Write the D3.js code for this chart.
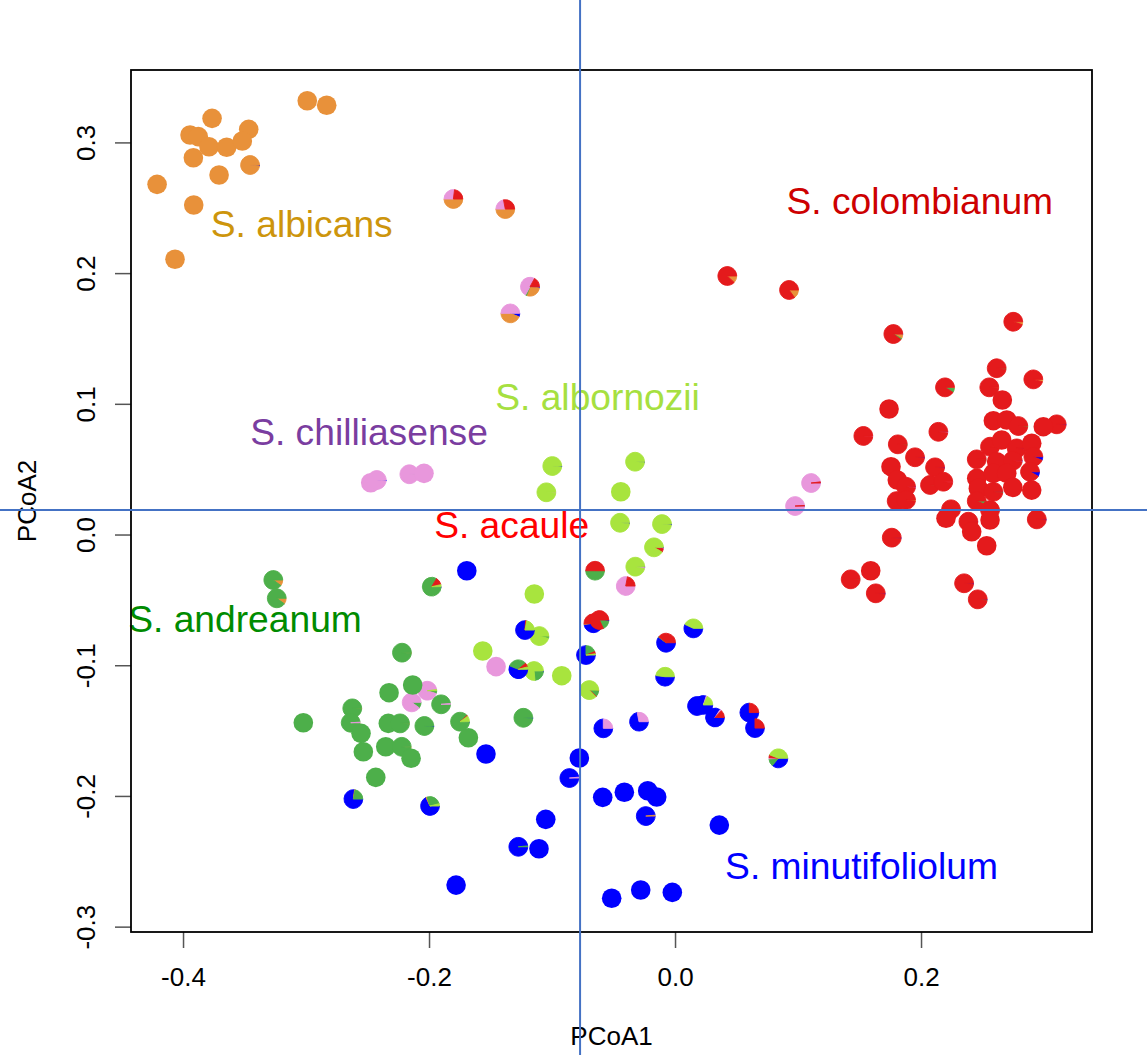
<!DOCTYPE html>
<html>
<head>
<meta charset="utf-8">
<script src="https://cdn.jsdelivr.net/npm/d3@7"></script>
<style>
  html, body { margin: 0; padding: 0; background: #ffffff; }
  svg { display: block; }
  text { font-family: "Liberation Sans", Arial, Helvetica, sans-serif; }
</style>
</head>
<body>
<svg id="chart" width="1147" height="1055"></svg>
<script>
// Ancestry components (pie slice order, clockwise from 3 o'clock)
const ancestry = ["minutifoliolum", "albicans", "andreanum", "chilliasense", "colombianum", "albornozii"];

// Each sample: PCoA1, PCoA2, ancestry proportions in the order above
const samples = [
  // S. albicans
  [-0.2990, 0.3319, [0, 1, 0, 0, 0, 0]],
  [-0.2832, 0.3284, [0, 1, 0, 0, 0, 0]],
  [-0.3764, 0.3184, [0, 1, 0, 0, 0, 0]],
  [-0.3466, 0.3100, [0, 1, 0, 0, 0, 0]],
  [-0.3943, 0.3057, [0, 1, 0, 0, 0, 0]],
  [-0.3876, 0.3044, [0, 1, 0, 0, 0, 0]],
  [-0.3789, 0.2967, [0, 1, 0, 0, 0, 0]],
  [-0.3645, 0.2963, [0, 1, 0, 0, 0, 0]],
  [-0.3518, 0.3011, [0, 1, 0, 0, 0, 0]],
  [-0.3916, 0.2883, [0, 1, 0, 0, 0, 0]],
  [-0.3455, 0.2827, [0.015, 0.985, 0, 0, 0, 0]],
  [-0.3707, 0.2751, [0, 1, 0, 0, 0, 0]],
  [-0.4211, 0.2679, [0, 1, 0, 0, 0, 0]],
  [-0.3913, 0.2521, [0, 1, 0, 0, 0, 0]],
  [-0.4065, 0.2106, [0, 1, 0, 0, 0, 0]],
  // admixed upper samples
  [-0.1802, 0.2567, [0, 0.5, 0, 0.27, 0.23, 0]],
  [-0.1380, 0.2490, [0, 0.5, 0, 0.22, 0.28, 0]],
  [-0.1179, 0.1896, [0.02, 0.29, 0.02, 0.5, 0.17, 0]],
  [-0.1339, 0.1692, [0.06, 0.44, 0, 0.5, 0, 0]],
  [0.0425, 0.1978, [0, 0.12, 0, 0, 0.88, 0]],
  [0.0927, 0.1871, [0, 0.15, 0, 0, 0.85, 0]],
  // S. colombianum
  [0.2750, 0.1628, [0, 0.05, 0, 0, 0.95, 0]],
  [0.1775, 0.1534, [0.01, 0.07, 0.02, 0, 0.90, 0]],
  [0.2615, 0.1272, [0, 0.01, 0.01, 0, 0.98, 0]],
  [0.2913, 0.1187, [0, 0.04, 0, 0, 0.96, 0]],
  [0.2195, 0.1126, [0, 0.02, 0.07, 0, 0.91, 0]],
  [0.2555, 0.1126, [0, 0.015, 0, 0, 0.985, 0]],
  [0.2661, 0.1029, [0, 0, 0, 0, 1, 0]],
  [0.1740, 0.0960, [0, 0, 0, 0, 1, 0]],
  [0.3103, 0.0843, [0.015, 0, 0, 0, 0.985, 0]],
  [0.2994, 0.0825, [0, 0, 0, 0, 1, 0]],
  [0.2588, 0.0871, [0, 0, 0, 0, 1, 0]],
  [0.2697, 0.0876, [0, 0, 0, 0, 1, 0]],
  [0.2791, 0.0830, [0, 0.01, 0.01, 0, 0.98, 0]],
  [0.1531, 0.0754, [0, 0, 0, 0.015, 0.985, 0]],
  [0.2141, 0.0786, [0.01, 0, 0, 0.01, 0.98, 0]],
  [0.1811, 0.0690, [0, 0, 0.015, 0, 0.985, 0]],
  [0.2561, 0.0672, [0, 0.01, 0, 0, 0.99, 0]],
  [0.2656, 0.0723, [0, 0, 0, 0, 1, 0]],
  [0.2778, 0.0659, [0.015, 0, 0, 0, 0.985, 0]],
  [0.2900, 0.0698, [0, 0, 0, 0, 1, 0]],
  [0.1951, 0.0591, [0.015, 0, 0, 0, 0.985, 0]],
  [0.2453, 0.0575, [0, 0, 0.01, 0, 0.99, 0]],
  [0.2615, 0.0557, [0, 0, 0, 0, 1, 0]],
  [0.2746, 0.0565, [0.015, 0, 0, 0.005, 0.98, 0]],
  [0.2913, 0.0595, [0.06, 0, 0, 0, 0.94, 0]],
  [0.1756, 0.0519, [0, 0, 0, 0, 1, 0]],
  [0.2114, 0.0514, [0.015, 0, 0, 0, 0.985, 0]],
  [0.2886, 0.0480, [0.08, 0, 0, 0, 0.92, 0]],
  [0.1807, 0.0417, [0, 0, 0, 0, 1, 0]],
  [0.2453, 0.0430, [0, 0, 0, 0, 1, 0]],
  [0.2588, 0.0468, [0, 0, 0, 0, 1, 0]],
  [0.2697, 0.0468, [0, 0, 0, 0, 1, 0]],
  [0.1878, 0.0366, [0.015, 0, 0, 0.005, 0.98, 0]],
  [0.2073, 0.0379, [0, 0, 0.015, 0, 0.985, 0]],
  [0.2181, 0.0404, [0, 0, 0, 0.015, 0.985, 0]],
  [0.2466, 0.0353, [0, 0, 0, 0, 1, 0]],
  [0.2588, 0.0327, [0.01, 0, 0.01, 0, 0.98, 0]],
  [0.2746, 0.0361, [0, 0, 0, 0, 1, 0]],
  [0.2900, 0.0340, [0, 0, 0, 0, 1, 0]],
  [0.1802, 0.0256, [0, 0.01, 0.06, 0, 0.93, 0]],
  [0.1878, 0.0264, [0, 0.02, 0, 0, 0.98, 0]],
  [0.2453, 0.0256, [0, 0, 0.06, 0, 0.94, 0]],
  [0.2561, 0.0187, [0.01, 0, 0, 0.005, 0.985, 0]],
  [0.2244, 0.0193, [0.01, 0, 0, 0.005, 0.985, 0]],
  [0.2203, 0.0124, [0, 0, 0, 0, 1, 0]],
  [0.2385, 0.0098, [0.005, 0, 0, 0, 0.995, 0]],
  [0.2561, 0.0111, [0, 0, 0, 0, 1, 0]],
  [0.2412, 0.0021, [0, 0, 0, 0, 1, 0]],
  [0.2941, 0.0116, [0.015, 0, 0, 0, 0.985, 0]],
  [0.1762, -0.0024, [0.015, 0, 0, 0, 0.985, 0]],
  [0.2534, -0.0086, [0, 0, 0, 0, 1, 0]],
  [0.1591, -0.0277, [0, 0, 0, 0, 1, 0]],
  [0.1428, -0.0343, [0, 0, 0.015, 0, 0.985, 0]],
  [0.1632, -0.0450, [0.015, 0, 0, 0, 0.985, 0]],
  [0.2350, -0.0373, [0.015, 0, 0, 0, 0.985, 0]],
  [0.2461, -0.0496, [0.015, 0, 0.01, 0, 0.975, 0]],
  // S. chilliasense
  [0.1106, 0.0394, [0.005, 0, 0, 0.975, 0.02, 0]],
  [0.0976, 0.0218, [0.01, 0, 0, 0.98, 0.01, 0]],
  [-0.2474, 0.0396, [0, 0, 0, 1, 0, 0]],
  [-0.2425, 0.0417, [0.015, 0, 0, 0.985, 0, 0]],
  [-0.2160, 0.0461, [0, 0, 0.015, 0.985, 0, 0]],
  [-0.2041, 0.0468, [0, 0, 0, 1, 0, 0]],
  [-0.0401, -0.0394, [0, 0, 0, 0.78, 0.22, 0]],
  [-0.1455, -0.1011, [0, 0, 0, 1, 0, 0]],
  [-0.2014, -0.1195, [0, 0, 0.05, 0.93, 0, 0.02]],
  [-0.2141, -0.1284, [0, 0, 0.10, 0.90, 0, 0]],
  // S. albornozii
  [-0.0998, 0.0524, [0.015, 0, 0, 0, 0, 0.985]],
  [-0.1046, 0.0323, [0, 0, 0, 0.015, 0, 0.985]],
  [-0.0325, 0.0557, [0.015, 0, 0, 0, 0, 0.985]],
  [-0.0441, 0.0327, [0, 0, 0, 0, 0, 1]],
  [-0.0447, 0.0090, [0.015, 0, 0, 0, 0, 0.985]],
  [-0.0106, 0.0080, [0.015, 0, 0, 0, 0, 0.985]],
  [-0.0171, -0.0098, [0.015, 0, 0, 0.01, 0.06, 0.915]],
  [-0.0323, -0.0246, [0.015, 0, 0, 0.02, 0, 0.965]],
  [-0.1144, -0.0455, [0, 0, 0, 0, 0, 1]],
  [-0.1103, -0.0777, [0, 0.01, 0.03, 0, 0, 0.96]],
  [-0.1563, -0.0891, [0, 0, 0, 0, 0, 1]],
  [-0.1146, -0.1044, [0.015, 0, 0.22, 0, 0, 0.765]],
  [-0.0921, -0.1080, [0, 0, 0, 0, 0, 1]],
  [-0.0697, -0.1190, [0, 0.015, 0.10, 0, 0.01, 0.875]],
  // S. acaule
  [-0.0650, -0.0277, [0, 0.01, 0.49, 0, 0.50, 0]],
  [-0.0664, -0.0679, [0.48, 0.01, 0, 0, 0.51, 0]],
  [-0.0615, -0.0654, [0.02, 0, 0.16, 0, 0.82, 0]],
  // S. andreanum
  [-0.3266, -0.0348, [0, 0.10, 0.90, 0, 0, 0]],
  [-0.3238, -0.0488, [0, 0.10, 0.90, 0, 0, 0]],
  [-0.1978, -0.0399, [0.015, 0, 0.82, 0, 0.13, 0.035]],
  [-0.2220, -0.0904, [0, 0.015, 0.985, 0, 0, 0]],
  [-0.2325, -0.1210, [0, 0, 1, 0, 0, 0]],
  [-0.2133, -0.1151, [0, 0, 1, 0, 0, 0]],
  [-0.1902, -0.1299, [0, 0, 0.985, 0.015, 0, 0]],
  [-0.3022, -0.1440, [0, 0, 1, 0, 0, 0]],
  [-0.2624, -0.1330, [0, 0.015, 0.985, 0, 0, 0]],
  [-0.2637, -0.1440, [0, 0.01, 0.98, 0.01, 0, 0]],
  [-0.2331, -0.1445, [0, 0, 1, 0, 0, 0]],
  [-0.2236, -0.1445, [0, 0.015, 0.985, 0, 0, 0]],
  [-0.2038, -0.1465, [0.015, 0, 0.985, 0, 0, 0]],
  [-0.1748, -0.1432, [0.015, 0, 0.87, 0, 0.015, 0.10]],
  [-0.1680, -0.1555, [0, 0, 1, 0, 0, 0]],
  [-0.2553, -0.1521, [0, 0, 1, 0, 0, 0]],
  [-0.2534, -0.1662, [0, 0, 1, 0, 0, 0]],
  [-0.2352, -0.1624, [0, 0, 1, 0, 0, 0]],
  [-0.2222, -0.1624, [0, 0.015, 0.985, 0, 0, 0]],
  [-0.2146, -0.1712, [0, 0, 1, 0, 0, 0]],
  [-0.2433, -0.1858, [0, 0, 1, 0, 0, 0]],
  [-0.1233, -0.1402, [0.015, 0, 0.985, 0, 0, 0]],
  // S. minutifoliolum
  [-0.1693, -0.0277, [1, 0, 0, 0, 0, 0]],
  [-0.1220, -0.0731, [0.76, 0, 0, 0, 0.02, 0.22]],
  [-0.0073, -0.0828, [0.60, 0, 0.01, 0, 0.39, 0]],
  [0.0149, -0.0718, [0.57, 0, 0, 0, 0, 0.43]],
  [-0.0724, -0.0922, [0.75, 0, 0.19, 0, 0.04, 0.02]],
  [-0.1274, -0.1031, [0.56, 0, 0.33, 0, 0.07, 0.04]],
  [-0.0081, -0.1088, [0.52, 0, 0, 0, 0, 0.48]],
  [-0.0583, -0.1483, [0.75, 0, 0, 0.25, 0, 0]],
  [-0.0293, -0.1432, [0.72, 0, 0, 0.28, 0, 0]],
  [0.0179, -0.1312, [0.93, 0, 0.02, 0, 0.05, 0]],
  [0.0230, -0.1304, [0.80, 0, 0, 0.02, 0, 0.18]],
  [0.0325, -0.1400, [0.84, 0, 0, 0.03, 0.13, 0]],
  [0.0604, -0.1362, [0.75, 0, 0, 0, 0.25, 0]],
  [0.0650, -0.1481, [0.75, 0, 0, 0, 0.25, 0]],
  [0.0840, -0.1712, [0.36, 0, 0.13, 0.02, 0.05, 0.44]],
  [-0.1537, -0.1679, [1, 0, 0, 0, 0, 0]],
  [-0.0778, -0.1710, [1, 0, 0, 0, 0, 0]],
  [-0.0859, -0.1863, [0.985, 0, 0, 0.015, 0, 0]],
  [-0.2615, -0.2024, [0.77, 0.01, 0.22, 0, 0, 0]],
  [-0.1992, -0.2077, [0.68, 0.02, 0.26, 0, 0, 0.04]],
  [-0.0588, -0.2011, [1, 0, 0, 0, 0, 0]],
  [-0.0412, -0.1972, [1, 0, 0, 0, 0, 0]],
  [-0.0222, -0.1960, [1, 0, 0, 0, 0, 0]],
  [-0.0149, -0.2008, [1, 0, 0, 0, 0, 0]],
  [-0.0238, -0.2154, [0.985, 0.015, 0, 0, 0, 0]],
  [0.0360, -0.2223, [1, 0, 0, 0, 0, 0]],
  [-0.1051, -0.2179, [1, 0, 0, 0, 0, 0]],
  [-0.1274, -0.2389, [0.985, 0, 0.015, 0, 0, 0]],
  [-0.1106, -0.2404, [1, 0, 0, 0, 0, 0]],
  [-0.1780, -0.2682, [1, 0, 0, 0, 0, 0]],
  [-0.0515, -0.2783, [1, 0, 0, 0, 0, 0]],
  [-0.0279, -0.2720, [1, 0, 0, 0, 0, 0]],
  [-0.0022, -0.2738, [1, 0, 0, 0, 0, 0]]
];

// Species labels and where they sit (PCoA coordinates of the label centre)
const speciesLabels = ["S. albicans", "S. colombianum", "S. albornozii", "S. chilliasense", "S. acaule", "S. andreanum", "S. minutifoliolum"];
const labelPC1 = [-0.3035, 0.1990, -0.0630, -0.2488, -0.1328, -0.3496, 0.1516];
const labelPC2 = [0.2376, 0.2555, 0.1050, 0.0783, 0.0073, -0.0646, -0.2533];

// Axis ticks and reference lines
const xTicks = [-0.4, -0.2, 0.0, 0.2];
const yTicks = [-0.3, -0.2, -0.1, 0.0, 0.1, 0.2, 0.3];
const refPC1 = -0.0772;
const refPC2 = 0.0187;

// ---- styling ----
const sliceColors = ["#0000FF", "#E8913A", "#4DAF4A", "#E897DC", "#E41A1C", "#A8E43E"];
const labelColors = ["#CD950C", "#CD0000", "#A6E040", "#7A3DA0", "#FF0000", "#008B00", "#0000FF"];
const R = 9.8;

const svg = d3.select("#chart");
const plot = { left: 131, right: 1092, top: 70, bottom: 932 };

const x = d3.scaleLinear().domain([-0.4423, 0.3390]).range([plot.left, plot.right]);
const y = d3.scaleLinear().domain([-0.3041, 0.3554]).range([plot.bottom, plot.top]);

svg.append("rect").attr("width", 1147).attr("height", 1055).attr("fill", "#ffffff");

// Axes
const fmt = d => d.toFixed(1);
const gx = svg.append("g").attr("transform", `translate(0,${plot.bottom})`)
  .call(d3.axisBottom(x).tickValues(xTicks).tickFormat(fmt).tickSize(16));
gx.select(".domain").remove();
gx.selectAll(".tick line").attr("stroke", "#555").attr("stroke-width", 1.5);
gx.selectAll(".tick text").attr("y", 54).attr("dy", 0)
  .attr("font-size", 26).attr("fill", "#000")
  .style("font-family", "'Liberation Sans', Arial, sans-serif");

const gy = svg.append("g").attr("transform", `translate(${plot.left},0)`)
  .call(d3.axisLeft(y).tickValues(yTicks).tickFormat(fmt).tickSize(16));
gy.select(".domain").remove();
gy.selectAll(".tick line").attr("stroke", "#555").attr("stroke-width", 1.5);
gy.selectAll(".tick text")
  .attr("x", 0).attr("y", -36).attr("dy", 0)
  .attr("transform", "rotate(-90)")
  .attr("text-anchor", "middle")
  .attr("font-size", 26).attr("fill", "#000")
  .style("font-family", "'Liberation Sans', Arial, sans-serif");

// Axis titles
svg.append("text")
  .attr("x", (plot.left + plot.right) / 2).attr("y", 1045)
  .attr("text-anchor", "middle").attr("font-size", 26).text("PCoA1");
svg.append("text")
  .attr("transform", `translate(36,${(plot.top + plot.bottom) / 2}) rotate(-90)`)
  .attr("text-anchor", "middle").attr("font-size", 26).text("PCoA2");

// Pie markers
const arc = d3.arc().innerRadius(0).outerRadius(R - 0.4);
const marks = svg.append("g");
samples.forEach(([pc1, pc2, q]) => {
  const g = marks.append("g").attr("transform", `translate(${x(pc1)},${y(pc2)})`);
  let cum = 0;
  q.forEach((p, i) => {
    if (p <= 0) return;
    if (p >= 1) {
      g.append("circle").attr("r", R).attr("fill", sliceColors[i]);
    } else {
      const a0 = Math.PI / 2 + 2 * Math.PI * cum;
      const a1 = Math.PI / 2 + 2 * Math.PI * (cum + p);
      g.append("path")
        .attr("d", arc({ startAngle: a0, endAngle: a1 }))
        .attr("fill", sliceColors[i])
        .attr("stroke", sliceColors[i])
        .attr("stroke-width", 0.9)
        .attr("stroke-linejoin", "round");
    }
    cum += p;
  });
});

// Species labels
svg.append("g").selectAll("text")
  .data(speciesLabels)
  .join("text")
  .attr("x", (d, i) => x(labelPC1[i]))
  .attr("y", (d, i) => y(labelPC2[i]))
  .attr("dy", "0.35em")
  .attr("text-anchor", "middle")
  .attr("font-size", 37.2)
  .attr("fill", (d, i) => labelColors[i])
  .text(d => d);

// Plot frame
svg.append("rect")
  .attr("x", plot.left).attr("y", plot.top)
  .attr("width", plot.right - plot.left).attr("height", plot.bottom - plot.top)
  .attr("fill", "none").attr("stroke", "#000").attr("stroke-width", 1.8);

// Reference lines through the whole figure
svg.append("line")
  .attr("x1", x(refPC1)).attr("x2", x(refPC1))
  .attr("y1", 0).attr("y2", 1055)
  .attr("stroke", "#4472C4").attr("stroke-width", 2);
svg.append("line")
  .attr("x1", 0).attr("x2", 1147)
  .attr("y1", y(refPC2)).attr("y2", y(refPC2))
  .attr("stroke", "#4472C4").attr("stroke-width", 2);
</script>
</body>
</html>
